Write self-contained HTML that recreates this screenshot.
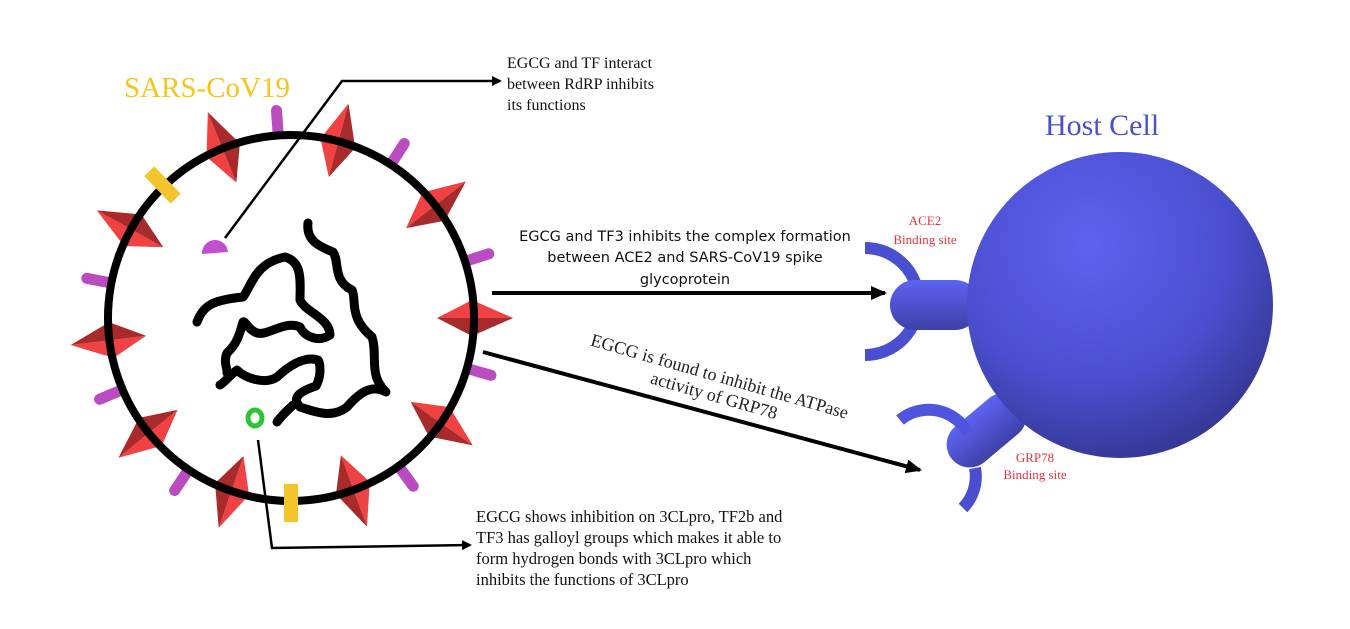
<!DOCTYPE html>
<html><head><meta charset="utf-8"><style>
html,body{margin:0;padding:0;background:#fff;}
svg{display:block;}
.serif{font-family:"Liberation Serif",serif;}
.sans{font-family:"DejaVu Sans","Liberation Sans",sans-serif;}
</style></head><body>
<svg width="1350" height="629" viewBox="0 0 1350 629" xmlns="http://www.w3.org/2000/svg">
<defs>
<radialGradient id="sph" cx="0.4" cy="0.3" r="0.75">
<stop offset="0" stop-color="#5d62f0"/><stop offset="0.6" stop-color="#4a4fd0"/><stop offset="1" stop-color="#33368f"/>
</radialGradient>
<linearGradient id="stalk" x1="0" y1="0" x2="0" y2="1">
<stop offset="0" stop-color="#5e63f2"/><stop offset="1" stop-color="#3d41a8"/>
</linearGradient>
<marker id="ah" markerWidth="10" markerHeight="10" refX="8" refY="5" orient="auto" markerUnits="userSpaceOnUse">
<path d="M0,0 L10,5 L0,10 Z" fill="#000"/></marker>
<marker id="ah2" markerWidth="16" markerHeight="14" refX="14" refY="7" orient="auto" markerUnits="userSpaceOnUse">
<path d="M0,0 L16,7 L0,14 Z" fill="#000"/></marker>
<g id="sp"><polygon points="146,0 181,-18 222,0" fill="#f04242"/><polygon points="146,0 181,18 222,0" fill="#a82a2a"/></g>
<g id="rod"><line x1="186" y1="0" x2="208" y2="0" stroke="#b84cc0" stroke-width="11" stroke-linecap="round"/></g>
<g id="yel"><rect x="166" y="-7" width="38" height="14" fill="#f5c32c"/></g>
</defs>

<!-- virus -->
<g transform="rotate(-112 291 318)"><use href="#sp" x="291" y="318"/></g>
<g transform="rotate(-75 291 318)"><use href="#sp" x="291" y="318"/></g>
<g transform="rotate(-38 291 318)"><use href="#sp" x="291" y="318"/></g>
<g transform="rotate(-151 291 318)"><use href="#sp" x="291" y="318"/></g>
<g transform="rotate(0 291 318)"><use href="#sp" x="291" y="318"/></g>
<g transform="rotate(173 291 318)"><use href="#sp" x="291" y="318"/></g>
<g transform="rotate(141 291 318)"><use href="#sp" x="291" y="318"/></g>
<g transform="rotate(109 291 318)"><use href="#sp" x="291" y="318"/></g>
<g transform="rotate(70 291 318)"><use href="#sp" x="291" y="318"/></g>
<g transform="rotate(35 291 318)"><use href="#sp" x="291" y="318"/></g>
<g transform="rotate(-94 291 318)"><use href="#rod" x="291" y="318"/></g>
<g transform="rotate(-57 291 318)"><use href="#rod" x="291" y="318"/></g>
<g transform="rotate(-18 291 318)"><use href="#rod" x="291" y="318"/></g>
<g transform="rotate(191 291 318)"><use href="#rod" x="291" y="318"/></g>
<g transform="rotate(16 291 318)"><use href="#rod" x="291" y="318"/></g>
<g transform="rotate(157 291 318)"><use href="#rod" x="291" y="318"/></g>
<g transform="rotate(124 291 318)"><use href="#rod" x="291" y="318"/></g>
<g transform="rotate(54 291 318)"><use href="#rod" x="291" y="318"/></g>
<circle cx="291" cy="318" r="183" fill="none" stroke="#000" stroke-width="8"/>
<g transform="rotate(226 291 318)"><use href="#yel" x="291" y="318"/></g>
<g transform="rotate(90 291 318)"><use href="#yel" x="291" y="318"/></g>

<!-- genome -->
<path d="M308,223 C306,240 318,246 333,252 C340,262 332,280 352,290 C357,300 348,317 372,337 C378,355 368,375 386,392 C372,384 360,392 347,407 C333,418 318,413 300,407 C292,398 298,392 316,386 C322,375 320,362 318,360 C305,356 290,365 277,377 C265,385 245,378 237,370 C230,375 225,382 220,385" fill="none" stroke="#000" stroke-width="9" stroke-linecap="round" stroke-linejoin="round"/>
<path d="M197,322 C203,306 212,300 243,297 C252,285 255,263 285,257 C303,262 300,282 300,300 C305,312 330,318 330,335 C320,342 305,338 300,327 C285,320 268,336 257,333 C248,330 245,320 243,322 C240,332 238,343 227,353 C223,362 228,370 227,373" fill="none" stroke="#000" stroke-width="9" stroke-linecap="round" stroke-linejoin="round"/>
<path d="M277,422 C282,415 288,410 293,405" fill="none" stroke="#000" stroke-width="9" stroke-linecap="round"/>
<path d="M202,254 A13,13 0 0 1 228,252 Z" fill="#c050d0"/>
<ellipse cx="255" cy="418" rx="7" ry="8" fill="none" stroke="#2ec23a" stroke-width="5"/>

<!-- labels -->
<text x="124" y="97" class="serif" font-size="29" fill="#f5c518">SARS-CoV19</text>
<polyline points="225,238 342,81 500,81" fill="none" stroke="#000" stroke-width="2.5" marker-end="url(#ah)"/>
<text class="serif" font-size="16" fill="#111"><tspan x="507" y="68">EGCG and TF interact</tspan><tspan x="507" y="89">between RdRP inhibits</tspan><tspan x="507" y="110">its functions</tspan></text>

<text class="sans" font-size="14.5" fill="#111" text-anchor="middle"><tspan x="685" y="241">EGCG and TF3 inhibits the complex formation</tspan><tspan x="685" y="262">between ACE2 and SARS-CoV19 spike</tspan><tspan x="685" y="284">glycoprotein</tspan></text>
<line x1="492" y1="293" x2="885" y2="293" stroke="#000" stroke-width="4" marker-end="url(#ah2)"/>
<line x1="483" y1="352" x2="920" y2="470" stroke="#000" stroke-width="4" marker-end="url(#ah2)"/>
<g transform="translate(718,382) rotate(16)"><text class="serif" font-size="18" fill="#222" text-anchor="middle"><tspan x="0" y="0">EGCG is found to inhibit the ATPase</tspan><tspan x="0" y="20">activity of GRP78</tspan></text></g>

<polyline points="258,440 272,548 470,545" fill="none" stroke="#000" stroke-width="2.5" marker-end="url(#ah)"/>
<text class="serif" font-size="16.5" fill="#111"><tspan x="476" y="522">EGCG shows inhibition on 3CLpro, TF2b and</tspan><tspan x="476" y="543">TF3 has galloyl groups which makes it able to</tspan><tspan x="476" y="564">form hydrogen bonds with 3CLpro which</tspan><tspan x="476" y="585">inhibits the functions of 3CLpro</tspan></text>

<!-- host cell -->
<path d="M865,248 A48,48 0 0 1 865,355" fill="none" stroke="#4a4fd0" stroke-width="12"/>
<rect x="890" y="280" width="90" height="50" rx="25" fill="url(#stalk)"/>
<g transform="rotate(-40 975 440)"><rect x="945" y="417" width="90" height="46" rx="23" fill="url(#stalk)"/></g>
<path d="M900,420 A45,45 0 0 1 968,433" fill="none" stroke="#4f55de" stroke-width="12"/>
<path d="M975,468 A45,45 0 0 1 963,508" fill="none" stroke="#4a4fd0" stroke-width="12"/>
<circle cx="1120" cy="305" r="153" fill="url(#sph)"/>
<text x="1045" y="135" class="serif" font-size="30" fill="#4a4fd0">Host Cell</text>
<text class="serif" font-size="13" fill="#e8343c" text-anchor="middle"><tspan x="925" y="225">ACE2</tspan><tspan x="925" y="244">Binding site</tspan></text>
<text class="serif" font-size="13" fill="#e8343c" text-anchor="middle"><tspan x="1035" y="462">GRP78</tspan><tspan x="1035" y="479">Binding site</tspan></text>
</svg>
</body></html>
